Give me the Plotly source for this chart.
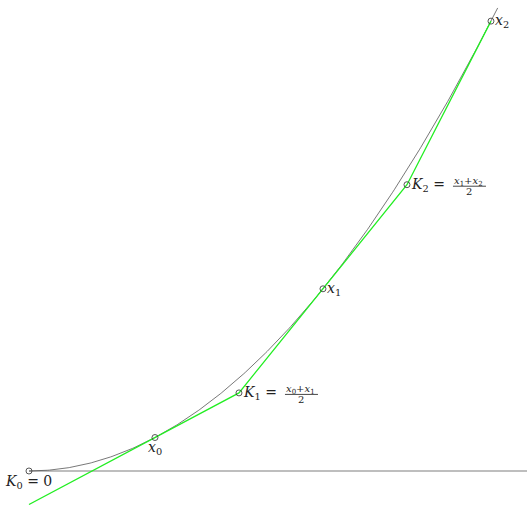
import numpy as np
import plotly.graph_objects as go

# Sample points on the parabola f(x) = x^2
x_pts = [1.5, 3.5, 5.5]
point_names = ["x<sub>0</sub>", "x<sub>1</sub>", "x<sub>2</sub>"]
curve_end = 5.58
axis_end = 5.95


def f(x):
    return x ** 2


def df(x):
    return 2 * x


# Intersections of consecutive tangent lines (K_i)
k_x = [0.0]
for a, b in zip(x_pts[:-1], x_pts[1:]):
    k_x.append((f(b) - f(a) - df(b) * b + df(a) * a) / (df(a) - df(b)))
k_y = [0.0] + [f(x_pts[i]) + df(x_pts[i]) * (k_x[i + 1] - x_pts[i]) for i in range(len(x_pts) - 1)]

# Piecewise tangent polyline: start of first tangent at x=0, through K1, K2, ending at x2
g_x = [0.0] + k_x[1:] + [x_pts[-1]]
g_y = [f(x_pts[0]) + df(x_pts[0]) * (0.0 - x_pts[0])] + k_y[1:] + [f(x_pts[-1])]

xs = np.linspace(0, curve_end, 300)

fig = go.Figure()
# x-axis baseline
fig.add_trace(go.Scatter(x=[0, axis_end], y=[0, 0], mode="lines",
                         line=dict(color="#a8a8a8", width=1.6), hoverinfo="skip"))
# parabola
fig.add_trace(go.Scatter(x=xs, y=f(xs), mode="lines",
                         line=dict(color="#555555", width=0.8), hoverinfo="skip"))
# tangent polyline
fig.add_trace(go.Scatter(x=g_x, y=g_y, mode="lines",
                         line=dict(color="#22ee22", width=1.3), hoverinfo="skip"))
# marked points
mx = [k_x[0]] + [x_pts[0], k_x[1], x_pts[1], k_x[2], x_pts[2]]
my = [k_y[0]] + [f(x_pts[0]), k_y[1], f(x_pts[1]), k_y[2], f(x_pts[2])]
fig.add_trace(go.Scatter(x=mx, y=my, mode="markers",
                         marker=dict(symbol="circle-open", size=6, color="#444444",
                                     line=dict(width=0.9, color="#444444")),
                         hoverinfo="skip"))

font = dict(family="DejaVu Serif", size=14, color="#222222")
small = dict(family="DejaVu Serif", size=10, color="#222222")


def ital(s):
    return "<i>" + s.replace("<sub>", "</i><sub>")


ann = []
# point labels
ann.append(dict(x=x_pts[0], y=f(x_pts[0]), text=ital(point_names[0]), xanchor="left",
                yanchor="top", xshift=-9, yshift=1, font=font))
ann.append(dict(x=x_pts[1], y=f(x_pts[1]), text=ital(point_names[1]), xanchor="left",
                yanchor="middle", xshift=2, yshift=0, font=font))
ann.append(dict(x=x_pts[2], y=f(x_pts[2]), text=ital(point_names[2]), xanchor="left",
                yanchor="middle", xshift=2, yshift=0, font=font))
ann.append(dict(x=k_x[0], y=k_y[0], text="<i>K</i><sub>0</sub> = 0", xanchor="center",
                yanchor="top", xshift=0, yshift=0, font=font))

shapes = []
for i in (1, 2):
    ann.append(dict(x=k_x[i], y=k_y[i], text="<i>K</i><sub>%d</sub> =" % i, xanchor="left",
                    yanchor="middle", xshift=2, yshift=0, font=font))
    num = ital(point_names[i - 1]) + "+" + ital(point_names[i])
    ann.append(dict(x=k_x[i], y=k_y[i], text=num, xanchor="center", yanchor="bottom",
                    xshift=62, yshift=-5, font=small))
    ann.append(dict(x=k_x[i], y=k_y[i], text="2", xanchor="center", yanchor="top",
                    xshift=62, yshift=1, font=small))
    shapes.append(dict(type="line", xref="x", yref="y", xsizemode="pixel", ysizemode="pixel",
                       xanchor=k_x[i], yanchor=k_y[i], x0=46, x1=79, y0=-1.5, y1=-1.5,
                       line=dict(color="#333333", width=0.9), layer="above"))

for a in ann:
    a.update(showarrow=False, xref="x", yref="y")

fig.update_layout(
    width=527, height=505,
    margin=dict(l=0, r=0, t=0, b=0),
    paper_bgcolor="white", plot_bgcolor="white",
    showlegend=False,
    annotations=ann, shapes=shapes,
    xaxis=dict(range=[-0.345, 5.929], visible=False, fixedrange=True),
    yaxis=dict(range=[-2.287, 31.67], visible=False, fixedrange=True),
)

fig.write_html("out.html")
